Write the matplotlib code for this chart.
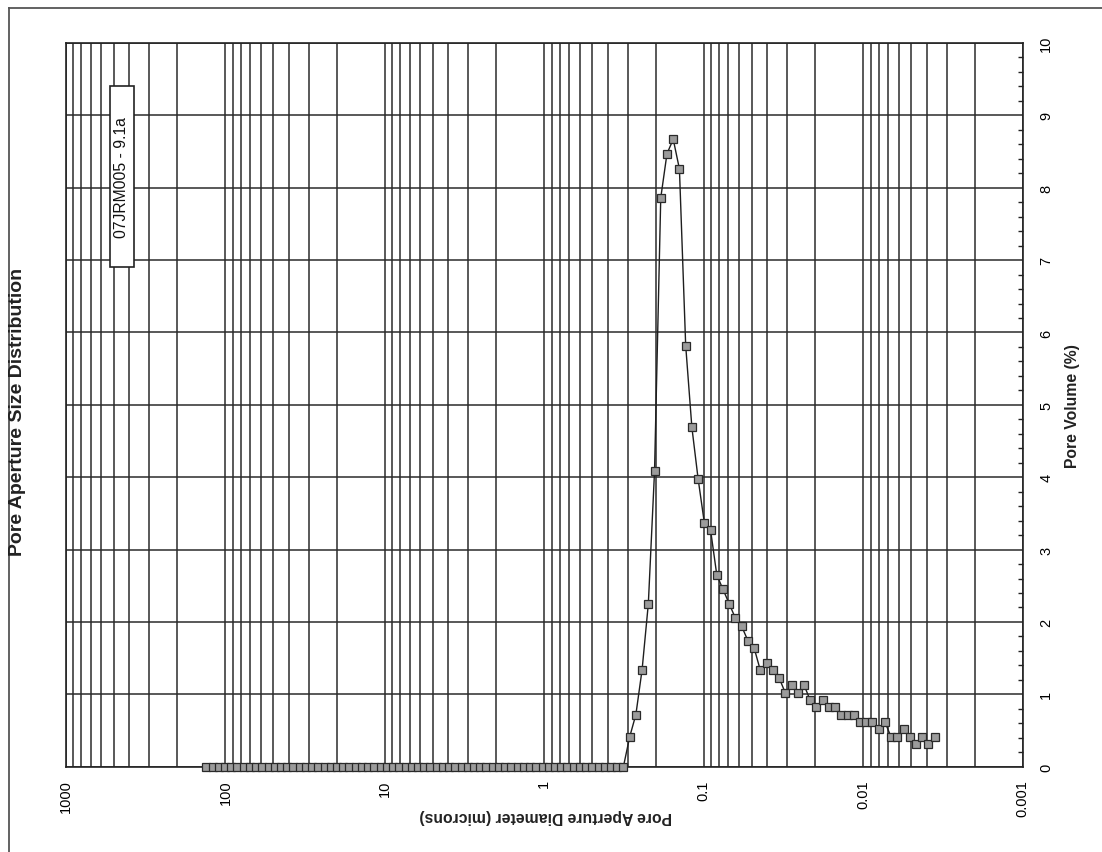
import matplotlib
matplotlib.use("Agg")
import matplotlib.pyplot as plt
from matplotlib.lines import Line2D
from matplotlib.patches import Rectangle
from matplotlib.ticker import LogLocator, MultipleLocator, NullFormatter

plt.rcParams['font.family'] = ['Liberation Sans', 'DejaVu Sans']

# Pore aperture diameters (microns), largest to smallest
diameter_um = [
    131.8, 120.5, 110.2, 100.7, 92.03, 84.12, 76.89, 70.28, 64.24, 58.72,
    53.67, 49.06, 44.84, 40.99, 37.46, 34.24, 31.30, 28.61, 26.15, 23.90,
    21.85, 19.97, 18.25, 16.68, 15.25, 13.93, 12.73, 11.64, 10.64, 9.723,
    8.887, 8.123, 7.424, 6.786, 6.202, 5.669, 5.182, 4.736, 4.329, 3.957,
    3.617, 3.306, 3.021, 2.762, 2.524, 2.307, 2.109, 1.928, 1.762, 1.610,
    1.472, 1.345, 1.230, 1.124, 1.027, 0.9391, 0.8583, 0.7845, 0.7171, 0.6554,
    0.5990, 0.5475, 0.5005, 0.4574, 0.4181, 0.3822, 0.3493, 0.3193, 0.2918, 0.2667,
    0.2438, 0.2228, 0.2037, 0.1862, 0.1702, 0.1555, 0.1422, 0.1299, 0.1188, 0.1086,
    0.09922, 0.09069, 0.08289, 0.07576, 0.06925, 0.06329, 0.05785, 0.05288, 0.04833, 0.04418,
    0.04038, 0.03690, 0.03373, 0.03083, 0.02818, 0.02576, 0.02354, 0.02152, 0.01967, 0.01798,
    0.01643, 0.01502, 0.01373, 0.01255, 0.01147, 0.01048, 0.009582, 0.008758, 0.008005, 0.007317,
    0.006688, 0.006113, 0.005587, 0.005107, 0.004668, 0.004266, 0.003900, 0.003564,
]

# Incremental pore volume (%) at each diameter
pore_volume_pct = [
    0.0, 0.0, 0.0, 0.0, 0.0, 0.0, 0.0, 0.0, 0.0, 0.0,
    0.0, 0.0, 0.0, 0.0, 0.0, 0.0, 0.0, 0.0, 0.0, 0.0,
    0.0, 0.0, 0.0, 0.0, 0.0, 0.0, 0.0, 0.0, 0.0, 0.0,
    0.0, 0.0, 0.0, 0.0, 0.0, 0.0, 0.0, 0.0, 0.0, 0.0,
    0.0, 0.0, 0.0, 0.0, 0.0, 0.0, 0.0, 0.0, 0.0, 0.0,
    0.0, 0.0, 0.0, 0.0, 0.0, 0.0, 0.0, 0.0, 0.0, 0.0,
    0.0, 0.0, 0.0, 0.0, 0.0, 0.0, 0.0, 0.0, 0.41, 0.72,
    1.34, 2.25, 4.08, 7.86, 8.47, 8.67, 8.26, 5.82, 4.69, 3.98,
    3.37, 3.27, 2.65, 2.45, 2.25, 2.05, 1.94, 1.74, 1.64, 1.33,
    1.43, 1.33, 1.23, 1.02, 1.13, 1.02, 1.13, 0.92, 0.82, 0.92,
    0.82, 0.82, 0.72, 0.72, 0.72, 0.62, 0.62, 0.62, 0.52, 0.62,
    0.41, 0.41, 0.52, 0.41, 0.31, 0.41, 0.31, 0.41,
]

diameter_ticks = [1000, 100, 10, 1, 0.1, 0.01, 0.001]
diameter_tick_labels = ["1000", "100", "10", "1", "0.1", "0.01", "0.001"]
volume_ticks = [0, 1, 2, 3, 4, 5, 6, 7, 8, 9, 10]

sample_name = "07JRM005 - 9.1a"
title = "Pore Aperture Size Distribution"
x_label = "Pore Aperture Diameter (microns)"
y_label = "Pore Volume (%)"

W, H = 1102, 853
fig = plt.figure(figsize=(W / 100, H / 100), dpi=100)
ax = fig.add_axes([66 / W, 1 - 767.7 / H, (1022.7 - 66) / W, (767.7 - 44) / H])

grid_color = '#2b2b2b'
ax.set_xscale('log')
ax.set_xlim(1000, 0.001)
ax.set_ylim(0, 10)

ax.set_xticks(diameter_ticks)
ax.set_xticklabels(diameter_tick_labels, rotation=90, ha='center', va='top')
ax.xaxis.set_minor_locator(LogLocator(base=10, subs=range(2, 10), numticks=20))
ax.xaxis.set_minor_formatter(NullFormatter())
ax.tick_params(axis='x', which='both', length=0, pad=9, labelsize=10.5)

ax.set_yticks(volume_ticks)
ax.yaxis.set_minor_locator(MultipleLocator(0.2))
ax.yaxis.tick_right()
ax.tick_params(axis='y', which='both', direction='in', left=False, right=True,
               labelleft=False, labelright=True, labelsize=10.5, pad=12,
               color='#222222', width=1.0)
ax.tick_params(axis='y', which='major', length=0)
ax.tick_params(axis='y', which='minor', length=3.5)
for lbl in ax.get_yticklabels():
    lbl.set_rotation(90)
    lbl.set_va('center')

ax.grid(which='both', axis='x', color=grid_color, lw=1.1)
ax.grid(which='major', axis='y', color=grid_color, lw=1.1)
ax.set_axisbelow(True)
for sp in ax.spines.values():
    sp.set_color('#222222')
    sp.set_linewidth(1.2)

ax.plot(diameter_um, pore_volume_pct, color='#1e1e1e', lw=1.0, marker='s',
        ms=5.4, mfc='#9b9b9b', mec='#2a2a2a', mew=0.9, zorder=3, clip_on=False)

# Sample name box
ax.add_patch(Rectangle(((110 - 66) / 956.7, (767.7 - 268.3) / 723.7),
                       24.3 / 956.7, 181 / 723.7, transform=ax.transAxes,
                       facecolor='white', edgecolor='#222222', lw=1.2, zorder=4))
ax.text((122 - 66) / 956.7, (767.7 - 177.8) / 723.7, sample_name,
        transform=ax.transAxes, rotation=90, ha='center', va='center',
        fontsize=11.3, color='#111111', zorder=5)

fig.text(18 / W, 1 - 412 / H, title, rotation=90, ha='center', va='center',
         fontsize=14, fontweight='bold', color='#222222')
fig.text(1072 / W, 1 - 406 / H, y_label, rotation=90, ha='center', va='center',
         fontsize=11.3, fontweight='bold', color='#222222')
fig.text(546 / W, 1 - 817 / H, x_label, rotation=180, ha='center', va='center',
         fontsize=11.3, fontweight='bold', color='#222222')

# Page frame
fig.add_artist(Line2D([8.5 / W, 8.5 / W], [0, 1 - 8.5 / H], color='#555555', lw=1.3))
fig.add_artist(Line2D([8.5 / W, 1], [1 - 8.5 / H, 1 - 8.5 / H], color='#555555', lw=1.3))

fig.savefig('out.png', dpi=100)
